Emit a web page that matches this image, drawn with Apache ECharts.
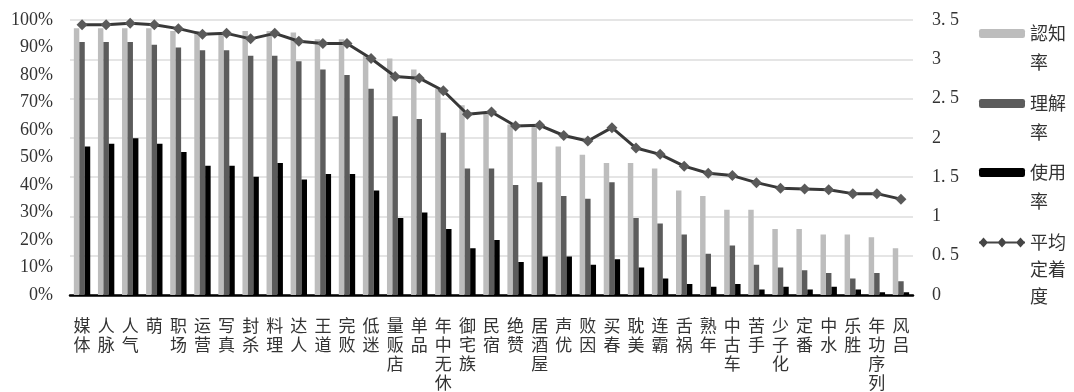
<!DOCTYPE html>
<html>
<head>
<meta charset="utf-8">
<script src="https://cdn.jsdelivr.net/npm/echarts@6/dist/echarts.min.js"></script>
<style>
  html, body { margin: 0; padding: 0; background: #fff; }
  #chart { width: 1074px; height: 392px; }
</style>
</head>
<body>
<div id="chart"></div>
<script>
// Loanwords: awareness / understanding / usage rates and average settledness
const categories = ['媒体','人脉','人气','萌','职场','运营','写真','封杀','料理','达人','王道','完败','低迷','量贩店','单品','年中无休','御宅族','民宿','绝赞','居酒屋','声优','败因','买春','耽美','连霸','舌祸','熟年','中古车','苦手','少子化','定番','中水','乐胜','年功序列','风吕'];

const awareness = [97,97,97,97,96,96,95.5,96,96,95.5,93,93,87,86,82,75,69,66,62,61.5,54,51,48,48,46,38,36,31,31,24,24,22,22,21,17];
const understanding = [92,92,92,91,90,89,89,87,87,85,82,80,75,65,64,59,46,46,40,41,36,35,41,28,26,22,15,18,11,10,9,8,6,8,5];
const usage = [54,55,57,55,52,47,47,43,48,42,44,44,38,28,30,24,17,20,12,14,14,11,13,10,6,4,3,4,2,3,2,3,2,1,1];
const settledness = [3.44,3.44,3.46,3.44,3.39,3.32,3.33,3.26,3.33,3.23,3.20,3.20,3.01,2.78,2.76,2.60,2.30,2.33,2.15,2.16,2.03,1.96,2.13,1.87,1.79,1.64,1.55,1.52,1.43,1.36,1.35,1.34,1.29,1.29,1.22];

const seriesNames = ['認知率','理解率','使用率','平均定着度'];
const legendLines = {
  '認知率': ['認知', '率'],
  '理解率': ['理解', '率'],
  '使用率': ['使用', '率'],
  '平均定着度': ['平均', '定着', '度']
};

const FONT = "'Liberation Serif', 'Noto Sans CJK SC', serif";
const CJK = "'Noto Sans CJK SC', 'Liberation Serif', serif";

// legend key for the line: a stroke with three diamond markers
const LINE_KEY = 'path://M0 4H46V6H0Z M0 5L4.5 0L9 5L4.5 10Z M18.5 5L23 0L27.5 5L23 10Z M37 5L41.5 0L46 5L41.5 10Z';

const chart = echarts.init(document.getElementById('chart'), null, { renderer: 'canvas' });

function legendFor(name, centerY, lineH, extra) {
  const lines = legendLines[name];
  const n = lines.length;
  // blank lines on top keep the icon level with the first text line
  const text = '\n'.repeat(n - 1) + lines.join('\n');
  const blockH = (2 * n - 1) * lineH;
  return Object.assign({
    data: [name],
    orient: 'vertical',
    left: 979,
    top: Math.round(centerY - blockH / 2),
    padding: 0,
    itemWidth: 46,
    itemHeight: 9,
    formatter: () => text,
    textStyle: {
      fontFamily: CJK,
      fontSize: 18,
      color: '#333',
      lineHeight: lineH
    }
  }, extra || {});
}

chart.setOption({
  animation: false,
  backgroundColor: '#fff',
  grid: { left: 70, right: 161, top: 20, bottom: 91, containLabel: false },
  legend: [
    legendFor('認知率', 33, 29),
    legendFor('理解率', 103, 29),
    legendFor('使用率', 172, 29),
    legendFor('平均定着度', 242, 27, {
      icon: LINE_KEY,
      itemHeight: 10,
      itemStyle: { color: '#454545' }
    })
  ],
  xAxis: {
    type: 'category',
    data: categories,
    axisLine: { lineStyle: { color: '#000', width: 2.5 } },
    axisTick: { show: false },
    axisLabel: {
      interval: 0,
      margin: 21,
      fontFamily: CJK,
      fontSize: 17,
      lineHeight: 19,
      color: '#333',
      formatter: v => v.split('').join('\n')
    }
  },
  yAxis: [
    {
      type: 'value',
      min: 0, max: 100, interval: 10,
      splitLine: { show: false },
      axisLine: { show: false },
      axisTick: { show: false },
      axisLabel: {
        margin: 17,
        fontFamily: FONT,
        fontSize: 18,
        color: '#333',
        formatter: '{value}%'
      }
    },
    {
      type: 'value',
      min: 0, max: 3.5, interval: 0.5,
      position: 'right',
      splitLine: { show: true, lineStyle: { color: '#dcdcdc', width: 1.5 } },
      axisLine: { show: false },
      axisTick: { show: false },
      axisLabel: {
        margin: 19,
        fontFamily: FONT,
        fontSize: 18,
        color: '#333',
        formatter: v => String(v).replace('.', '. ')
      }
    }
  ],
  series: [
    {
      name: seriesNames[0], type: 'bar', yAxisIndex: 0, data: awareness,
      itemStyle: { color: '#bdbdbd' },
      barGap: '0%', barCategoryGap: '32%'
    },
    {
      name: seriesNames[1], type: 'bar', yAxisIndex: 0, data: understanding,
      itemStyle: { color: '#5c5c5c' },
      barGap: '0%', barCategoryGap: '32%'
    },
    {
      name: seriesNames[2], type: 'bar', yAxisIndex: 0, data: usage,
      itemStyle: { color: '#000000' },
      barGap: '0%', barCategoryGap: '32%'
    },
    {
      name: seriesNames[3], type: 'line', yAxisIndex: 1, data: settledness,
      symbol: 'diamond', symbolSize: 11,
      itemStyle: { color: '#5a5a5a' },
      lineStyle: { color: '#383838', width: 3 },
      z: 5
    }
  ]
});
</script>
</body>
</html>
